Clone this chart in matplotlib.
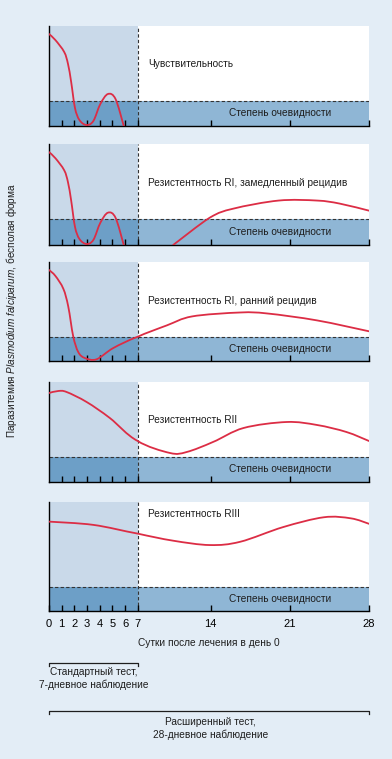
import numpy as np
import matplotlib
matplotlib.use("Agg")
import matplotlib.pyplot as plt
from matplotlib.path import Path
from matplotlib.patches import PathPatch, Rectangle
import matplotlib.transforms as mtransforms

FONT = "Liberation Sans"
plt.rcParams["font.family"] = [FONT, "DejaVu Sans"]
plt.rcParams["mathtext.fontset"] = "custom"
plt.rcParams["mathtext.it"] = FONT + ":italic"
plt.rcParams["mathtext.rm"] = FONT

# ---------------- data ----------------
tick_days = [0, 1, 2, 3, 4, 5, 6, 7, 14, 21, 28]
tick_labels = ["0", "1", "2", "3", "4", "5", "6", "7", "14", "21", "28"]

titles = ["Чувствительность",
          "Резистентность RI, замедленный рецидив",
          "Резистентность RI, ранний рецидив",
          "Резистентность RII",
          "Резистентность RIII"]
band_label = "Степень очевидности"
thresholds = [25, 26, 24, 25, 22]
title_y = [62, 61, 60.5, 62, 89]

early_x = [0, 0.5, 1.2, 1.5, 1.75, 2.05, 2.4, 2.95, 3.5, 4.05, 4.65, 5.25, 5.9]
early_y = [92, 86, 74, 62, 44, 18, 6, 1, 5, 22, 32, 27, 0]

late2_x = [10.4, 13.9, 16.0, 20.0, 23.4, 25.4, 28]
late2_y = [0, 27, 36, 44, 44, 41, 34]

p3_x = [0, 0.5, 1.13, 1.52, 1.91, 2.31, 2.83, 3.75, 5.06, 7, 9.8, 12.2, 16.6, 19.0, 23.4, 28]
p3_y = [92, 86, 73, 55, 25, 9, 3, 1.7, 13, 24.5, 36, 45, 49, 48, 41, 30]

p4_x = [0, 0.73, 1.39, 2.97, 4.8, 7, 10.1, 11.7, 14.2, 16.9, 20.7, 23.4, 26, 28]
p4_y = [89, 91, 90, 80, 64, 41, 29, 30, 40, 54, 60, 57, 50, 41]

p5_x = [0, 3.5, 7, 10.4, 13.9, 16.6, 20.4, 24, 26.4, 28]
p5_y = [82, 79, 71, 64.5, 60.5, 63.5, 77, 86, 85, 80]

panel_curves = [
    [(early_x, early_y)],
    [(early_x, early_y), (late2_x, late2_y)],
    [(p3_x, p3_y)],
    [(p4_x, p4_y)],
    [(p5_x, p5_y)],
]

xlabel = "Сутки после лечения в день 0"
bracket1 = "Стандартный тест,\n7-дневное наблюдение"
bracket2 = "Расширенный тест,\n28-дневное наблюдение"

# ---------------- style ----------------
W, H = 392, 759
BG = "#e3edf6"
SHADE = "#c9d9e9"
BAND_L = "#6d9fc7"
BAND_R = "#8fb6d5"
RED = "#dc2d45"
DARK = "#333333"
TXT = "#1e1e1e"
FS = 7.3

# piecewise axis scale (days 0-7 are stretched)
_src = np.array([0, 7, 14, 21, 28], float)
_dst = np.array([0, 88.7, 161.7, 241, 320], float)
def fwd(v):
    v = np.asarray(v, float)
    return (np.interp(v, _src, _dst) + np.where(v < 0, v * 12.7, 0)
            + np.where(v > 28, (v - 28) * 11.3, 0))
def inv(v):
    v = np.asarray(v, float)
    return (np.interp(v, _dst, _src) + np.where(v < 0, v / 12.7, 0)
            + np.where(v > 320, (v - 320) / 11.3, 0))

def smooth_path(xs, ys):
    pts = np.column_stack([xs, ys]).astype(float)
    n = len(pts)
    verts = [pts[0]]
    codes = [Path.MOVETO]
    for i in range(n - 1):
        p0 = pts[i - 1] if i > 0 else pts[i]
        p1 = pts[i]
        p2 = pts[i + 1]
        p3 = pts[i + 2] if i + 2 < n else pts[i + 1]
        c1 = p1 + (p2 - p0) / 6.0
        c2 = p2 - (p3 - p1) / 6.0
        verts += [c1, c2, p2]
        codes += [Path.CURVE4] * 3
    return Path(verts, codes)

fig = plt.figure(figsize=(W / 100, H / 100), dpi=100, facecolor=BG)

panels_px = [(26, 126), (144, 245), (262, 361), (382, 482), (502, 611)]
LEFT, RIGHT = 49, 369

axes = []
for i, (top, bot) in enumerate(panels_px):
    ax = fig.add_axes([LEFT / W, 1 - bot / H, (RIGHT - LEFT) / W, (bot - top) / H])
    ax.set_xscale("function", functions=(fwd, inv))
    ax.set_xlim(0, 28)
    ax.set_ylim(0, 100)
    ax.set_facecolor("white")
    thr = thresholds[i]
    ax.add_patch(Rectangle((0, 0), 7, 100, facecolor=SHADE, edgecolor="none", zorder=0))
    ax.add_patch(Rectangle((7, 0), 21, thr, facecolor=BAND_R, edgecolor="none", zorder=0.5))
    ax.add_patch(Rectangle((0, 0), 7, thr, facecolor=BAND_L, edgecolor="none", zorder=0.5))
    ax.axhline(thr, color=DARK, lw=0.8, ls=(0, (3, 2)), zorder=1)
    ax.axvline(7, color=DARK, lw=0.8, ls=(0, (3, 2)), zorder=1)
    for xs, ys in panel_curves[i]:
        ax.add_patch(PathPatch(smooth_path(xs, ys), facecolor="none", edgecolor=RED,
                               lw=1.3, zorder=3, capstyle="round"))
    ax.text(8, title_y[i], titles[i], fontsize=FS, color=TXT, va="center", ha="left", zorder=4)
    ax.text(20.1, thr / 2, band_label, fontsize=FS, color=TXT, va="center", ha="center", zorder=4)
    for s in ["top", "right"]:
        ax.spines[s].set_visible(False)
    ax.spines["left"].set_linewidth(1.0)
    ax.spines["bottom"].set_linewidth(1.0)
    ax.set_yticks([])
    ax.set_xticks(tick_days[1:])
    ax.tick_params(axis="x", direction="in", length=4, width=1.0, labelbottom=False)
    ax.minorticks_off()
    axes.append(ax)

axb = axes[-1]
axb.set_xticks(tick_days)
axb.set_xticklabels(tick_labels)
axb.tick_params(axis="x", direction="in", length=4, width=1.0, labelbottom=True,
                labelsize=8, pad=6)
axb.set_xlabel(xlabel, fontsize=FS, labelpad=6, color=TXT)

fig.text(12 / W, 1 - 311 / H,
         "Паразитемия $\\it{Plasmodium\\ falciparum}$, бесполая форма",
         rotation=90, fontsize=7.2, ha="center", va="center", color=TXT)

trans = mtransforms.blended_transform_factory(axb.transData, fig.transFigure)
def bracket(x0, x1, ypx, text, text_ypx):
    y = 1 - ypx / H
    yt = 1 - (ypx + 3) / H
    axb.plot([x0, x0, x1, x1], [yt, y, y, yt], color=TXT, lw=0.9,
             transform=trans, clip_on=False)
    axb.text((x0 + x1) / 2, 1 - text_ypx / H, text, transform=trans, ha="center",
             va="top", fontsize=FS, color=TXT, linespacing=1.35)

bracket(0, 7, 663, bracket1, 667)
bracket(0, 28, 711, bracket2, 717)

fig.savefig("out.png", dpi=100, facecolor=BG)
